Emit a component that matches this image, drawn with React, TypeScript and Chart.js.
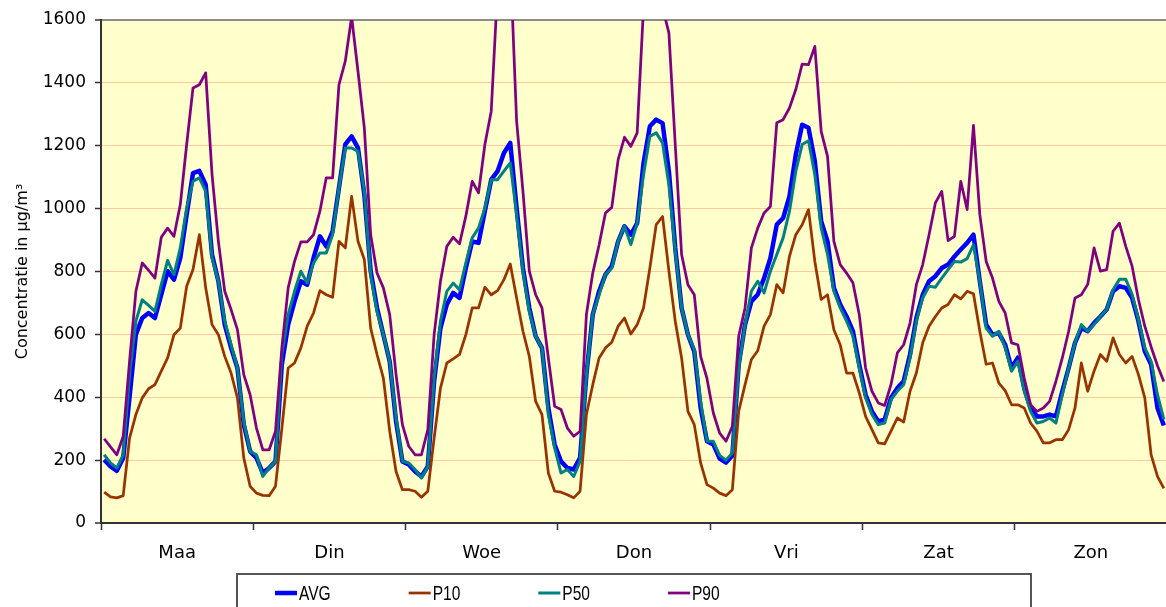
import React, { useEffect, useRef } from 'react';
import { Chart, registerables } from 'chart.js';

Chart.register(...registerables);

// ---- data ----
const dayLabels = ['Maa', 'Din', 'Woe', 'Don', 'Vri', 'Zat', 'Zon'];
const hoursPerDay = 24;
const yTickValues = [0, 200, 400, 600, 800, 1000, 1200, 1400, 1600];
const seriesNames = ['AVG', 'P10', 'P50', 'P90'];

const avgValues = [
  201, 180, 166, 207, 400, 600, 652, 668, 652, 726, 801, 774, 843, 981, 1113, 1120, 1076, 853, 769, 631, 557, 493, 313, 228,
  207, 159, 175, 196, 504, 631, 705, 769, 758, 843, 912, 880, 928, 1066, 1204, 1230, 1193, 1045, 801, 684, 599, 514, 323, 196,
  186, 164, 148, 180, 451, 620, 695, 732, 716, 811, 896, 891, 992, 1092, 1119, 1177, 1209, 1002, 811, 684, 594, 557, 366, 249,
  196, 175, 170, 207, 472, 663, 737, 790, 817, 896, 944, 917, 954, 1145, 1262, 1283, 1272, 1119, 875, 684, 599, 546, 366, 260,
  250, 205, 192, 215, 504, 631, 705, 727, 779, 843, 949, 970, 1039, 1172, 1267, 1257, 1151, 960, 896, 748, 695, 657, 610, 504,
  408, 355, 323, 329, 398, 429, 451, 536, 652, 726, 769, 785, 811, 822, 848, 870, 891, 917, 769, 631, 599, 604, 567, 493,
  526, 429, 366, 339, 339, 345, 339, 419, 493, 573, 620, 610, 636, 657, 679, 737, 753, 748, 716, 642, 546, 504, 366, 310,
];

const p10Values = [
  98, 83, 80, 87, 270, 345, 398, 427, 440, 483, 525, 599, 620, 753, 806, 917, 748, 631, 599, 530, 477, 398, 207, 117,
  95, 88, 87, 117, 300, 493, 509, 557, 626, 668, 739, 726, 718, 896, 875, 1039, 896, 838, 620, 536, 461, 292, 164, 106,
  106, 101, 82, 101, 270, 429, 509, 522, 536, 599, 684, 684, 750, 726, 739, 774, 824, 716, 610, 530, 387, 345, 159, 101,
  98, 90, 80, 101, 345, 440, 525, 557, 575, 626, 652, 601, 631, 684, 811, 949, 975, 801, 642, 525, 355, 313, 191, 122,
  111, 95, 87, 106, 355, 440, 520, 548, 626, 663, 758, 732, 848, 917, 949, 997, 832, 711, 726, 615, 567, 477, 477, 414,
  339, 297, 255, 252, 292, 334, 321, 419, 477, 573, 626, 657, 684, 695, 726, 713, 737, 729, 610, 505, 509, 445, 421, 376,
  376, 366, 318, 292, 255, 255, 265, 265, 297, 366, 509, 419, 483, 536, 514, 589, 536, 509, 530, 472, 398, 217, 148, 110,
];

const p50Values = [
  217, 191, 175, 217, 472, 642, 710, 692, 673, 758, 835, 790, 875, 1002, 1087, 1098, 1055, 843, 769, 642, 567, 493, 323, 228,
  217, 148, 175, 196, 536, 663, 737, 801, 763, 827, 859, 859, 917, 1066, 1193, 1193, 1182, 1055, 790, 673, 599, 514, 334, 196,
  191, 170, 143, 180, 461, 642, 737, 763, 742, 827, 907, 938, 1002, 1092, 1092, 1119, 1145, 981, 801, 673, 594, 557, 345, 239,
  159, 170, 148, 196, 472, 663, 726, 790, 811, 896, 944, 886, 954, 1108, 1230, 1241, 1209, 1076, 864, 684, 599, 551, 387, 260,
  260, 215, 200, 223, 493, 631, 737, 769, 732, 801, 854, 907, 992, 1119, 1204, 1216, 1108, 939, 854, 737, 684, 642, 594, 493,
  398, 345, 313, 318, 392, 419, 440, 525, 642, 716, 753, 750, 779, 806, 832, 830, 841, 885, 769, 620, 594, 610, 557, 483,
  515, 419, 355, 318, 323, 334, 318, 408, 493, 573, 631, 610, 631, 657, 679, 742, 775, 775, 727, 647, 557, 514, 408, 330,
];

const p90Values = [
  268, 242, 217, 276, 514, 737, 827, 804, 779, 909, 938, 912, 1013, 1204, 1384, 1394, 1432, 1108, 896, 737, 679, 615, 472, 408,
  302, 233, 233, 292, 557, 748, 832, 894, 894, 917, 992, 1098, 1098, 1394, 1469, 1610, 1437, 1257, 917, 795, 748, 663, 472, 313,
  244, 217, 217, 296, 599, 769, 880, 909, 888, 976, 1087, 1050, 1204, 1310, 1700, 1850, 1790, 1278, 1055, 801, 726, 684, 525, 371,
  361, 302, 276, 292, 663, 795, 885, 986, 1004, 1156, 1227, 1198, 1241, 1640, 1800, 1750, 1640, 1559, 1204, 854, 758, 726, 530, 460,
  350, 286, 260, 308, 594, 684, 875, 938, 986, 1007, 1273, 1283, 1320, 1379, 1460, 1458, 1516, 1246, 1166, 896, 822, 795, 764, 663,
  493, 419, 382, 374, 440, 541, 567, 636, 758, 822, 917, 1018, 1055, 898, 912, 1087, 997, 1265, 981, 832, 779, 705, 668, 573,
  567, 461, 376, 355, 366, 387, 451, 525, 610, 716, 726, 759, 875, 801, 806, 928, 954, 880, 817, 711, 626, 560, 500, 450,
];

// ---- styles ----
const seriesColors = ['#0000ff', '#993300', '#008080', '#800080'];
const seriesWidths = [4.5, 2.75, 3, 2.75];
const axisFont = '"DejaVu Sans", "Liberation Sans", Arial, sans-serif';
const legendFont = '"Liberation Sans", Arial, sans-serif';

const plotBackground = {
  id: 'plotBackground',
  beforeDraw(chart: any) {
    const { ctx, chartArea } = chart;
    ctx.save();
    ctx.fillStyle = '#ffffcc';
    ctx.fillRect(chartArea.left, chartArea.top, chartArea.right - chartArea.left, chartArea.bottom - chartArea.top);
    ctx.restore();
  },
};

const boxedLegend = {
  id: 'boxedLegend',
  afterDraw(chart: any) {
    const { ctx } = chart;
    const left = 237;
    const top = 574;
    const width = 794;
    const squeeze = 0.74;
    ctx.save();
    ctx.fillStyle = '#ffffff';
    ctx.fillRect(left, top, width, 60);
    ctx.strokeStyle = '#555555';
    ctx.lineWidth = 2;
    ctx.strokeRect(left, top, width, 60);
    ctx.font = '21px ' + legendFont;
    ctx.textBaseline = 'middle';
    ctx.textAlign = 'left';
    let x = 275;
    const y = 593;
    chart.data.datasets.forEach((ds: any) => {
      ctx.strokeStyle = ds.borderColor;
      ctx.lineWidth = ds.borderWidth;
      ctx.lineCap = 'butt';
      ctx.beginPath();
      ctx.moveTo(x, y);
      ctx.lineTo(x + 22, y);
      ctx.stroke();
      ctx.fillStyle = '#000000';
      ctx.save();
      ctx.translate(x + 24, y + 1);
      ctx.scale(squeeze, 1);
      ctx.fillText(ds.label, 0, 0);
      ctx.restore();
      x += 24 + ctx.measureText(ds.label).width * squeeze + 78;
    });
    ctx.restore();
  },
};

export default function App() {
  const canvasRef = useRef<HTMLCanvasElement | null>(null);

  useEffect(() => {
    if (!canvasRef.current) return;
    const allSeries = [avgValues, p10Values, p50Values, p90Values];
    const datasets = allSeries.map((vals, i) => ({
      label: seriesNames[i],
      data: vals.map((v, h) => ({ x: h + 0.5, y: v })),
      borderColor: seriesColors[i],
      backgroundColor: seriesColors[i],
      borderWidth: seriesWidths[i],
      pointRadius: 0,
      pointHoverRadius: 0,
      tension: 0,
      fill: false,
      borderJoinStyle: 'round' as const,
      clip: 0,
      order: allSeries.length - i,
    }));
    const totalHours = dayLabels.length * hoursPerDay;

    const chart = new Chart(canvasRef.current, {
      type: 'line',
      data: { datasets },
      options: {
        responsive: false,
        animation: false,
        layout: { padding: { top: 20, right: 4, left: 0, bottom: 0 } },
        plugins: {
          legend: { display: false },
          tooltip: { enabled: false },
        },
        scales: {
          x: {
            type: 'linear',
            min: 0,
            max: totalHours,
            afterBuildTicks: (scale: any) => {
              const t = [];
              for (let v = 0; v <= totalHours; v += hoursPerDay / 2) t.push({ value: v });
              scale.ticks = t;
            },
            afterFit: (scale: any) => {
              scale.height = 84;
            },
            ticks: {
              autoSkip: false,
              maxRotation: 0,
              minRotation: 0,
              padding: 13,
              color: '#000000',
              font: { family: axisFont, size: 18 },
              callback: (v: any) => {
                const n = Number(v);
                return n % hoursPerDay === hoursPerDay / 2 ? dayLabels[(n - hoursPerDay / 2) / hoursPerDay] : '';
              },
            },
            grid: {
              drawOnChartArea: false,
              drawTicks: true,
              tickLength: 7,
              tickWidth: 1.5,
              tickColor: (c: any) => (c.tick && c.tick.value % hoursPerDay === 0 ? '#333333' : 'rgba(0,0,0,0)'),
            },
            border: { display: true, color: '#333333', width: 2 },
          },
          y: {
            type: 'linear',
            min: yTickValues[0],
            max: yTickValues[yTickValues.length - 1],
            afterBuildTicks: (scale: any) => {
              scale.ticks = yTickValues.map((v) => ({ value: v }));
            },
            afterFit: (scale: any) => {
              scale.width = 101;
            },
            ticks: {
              padding: 9,
              color: '#000000',
              font: { family: axisFont, size: 17 },
              callback: (v: any) => String(v),
            },
            grid: {
              color: (c: any) => {
                const v = c.tick ? c.tick.value : -1;
                if (v === 0) return '#333333';
                if (v === 1600) return '#8c8c8c';
                return '#ffcc99';
              },
              lineWidth: (c: any) => (c.tick && (c.tick.value === 1600 || c.tick.value === 0) ? 2 : 1),
              tickLength: 6,
              tickColor: '#333333',
              tickWidth: 1.5,
            },
            border: { display: true, color: '#333333', width: 2 },
            title: {
              display: true,
              text: 'Concentratie in µg/m³',
              color: '#000000',
              font: { family: axisFont, size: 16, weight: 'normal' },
              padding: { top: 13, bottom: 0 },
            },
          },
        },
      },
      plugins: [plotBackground, boxedLegend],
    });
    return () => chart.destroy();
  }, []);

  return (
    <div
      style={{
        position: 'fixed',
        left: 0,
        top: 0,
        width: 1166,
        height: 607,
        overflow: 'hidden',
        background: '#ffffff',
      }}
    >
      <canvas ref={canvasRef} width={1180} height={607} style={{ display: 'block' }} />
    </div>
  );
}
